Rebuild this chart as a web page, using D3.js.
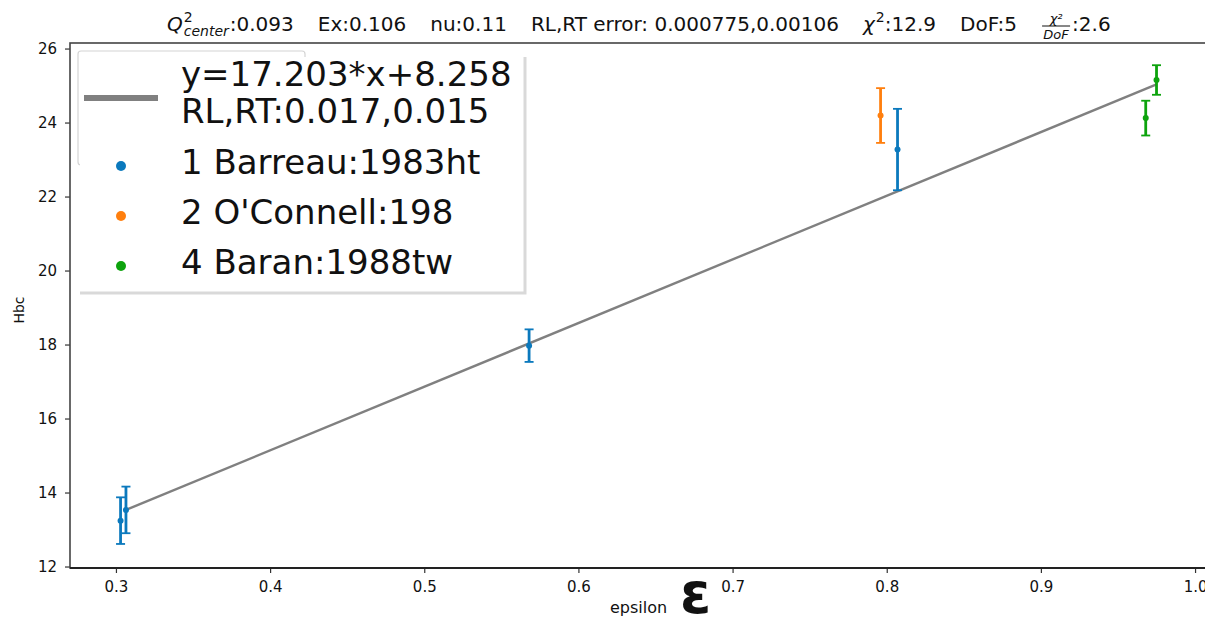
<!DOCTYPE html>
<html>
<head>
<meta charset="utf-8">
<script src="https://cdn.jsdelivr.net/npm/d3@7"></script>
<style>
  html, body { margin: 0; padding: 0; background: #fff; }
  svg { display: block; }
  text { font-family: "DejaVu Sans", sans-serif; fill: #111; white-space: pre; }
</style>
</head>
<body>
<svg id="chart" width="1205" height="617"></svg>
<script>
// Hbc vs epsilon, grouped by experiment
const groups = ["1 Barreau:1983ht", "2 O'Connell:198", "4 Baran:1988tw"];
const groupColors = ["#0b79bd", "#ff7f0e", "#0da30d"];

const barreauEps = [0.303, 0.3065, 0.568, 0.807];
const barreauHbc = [13.24, 13.53, 17.97, 23.27];
const barreauErr = [0.63, 0.63, 0.44, 1.10];

const oconnellEps = [0.796];
const oconnellHbc = [24.19];
const oconnellErr = [0.74];

const baranEps = [0.968, 0.975];
const baranHbc = [24.12, 25.15];
const baranErr = [0.47, 0.40];

// linear fit y = slope * x + intercept, drawn over the data span
const fitSlope = 17.203;
const fitIntercept = 8.258;
const fitRange = [0.3065, 0.975];

const xTicks = [0.3, 0.4, 0.5, 0.6, 0.7, 0.8, 0.9, 1.0];
const yTicks = [12, 14, 16, 18, 20, 22, 24, 26];

const legendLines = ["y=17.203*x+8.258", "RL,RT:0.017,0.015"];

// fit summary shown in the title
const titleItems = ["Ex:0.106", "nu:0.11", "RL,RT error: 0.000775,0.00106"];
const qCenter = ":0.093";
const chi2 = ":12.9";
const dof = "DoF:5";
const chi2PerDof = ":2.6";

const svg = d3.select("#chart");
const plot = { left: 70, right: 1206, top: 43, bottom: 568 };

const x = d3.scaleLinear().domain([0.2702, 1.0071]).range([plot.left, plot.right]);
const y = d3.scaleLinear().domain([11.96, 26.15]).range([plot.bottom, plot.top]);

// axes
const xAxis = d3.axisBottom(x).tickValues(xTicks).tickFormat(d3.format(".1f")).tickSize(5).tickPadding(8);
const yAxis = d3.axisLeft(y).tickValues(yTicks).tickFormat(d3.format("d")).tickSize(5).tickPadding(8);

const gx = svg.append("g").attr("transform", `translate(0,${plot.bottom})`).call(xAxis);
const gy = svg.append("g").attr("transform", `translate(${plot.left},0)`).call(yAxis);
[gx, gy].forEach(g => {
  g.select(".domain").remove();
  g.selectAll(".tick line").attr("stroke", "#333").attr("stroke-width", 1.2);
  g.selectAll(".tick text").attr("font-family", "DejaVu Sans").attr("font-size", 15).attr("fill", "#111");
});

// frame
svg.append("rect")
  .attr("x", plot.left).attr("y", plot.top)
  .attr("width", plot.right - plot.left).attr("height", plot.bottom - plot.top)
  .attr("fill", "none").attr("stroke", "#444").attr("stroke-width", 1.6);
svg.append("line")
  .attr("x1", plot.left).attr("x2", plot.right)
  .attr("y1", plot.bottom).attr("y2", plot.bottom)
  .attr("stroke", "#222").attr("stroke-width", 1.8);

// fit line
svg.append("line")
  .attr("x1", x(fitRange[0])).attr("y1", y(fitSlope * fitRange[0] + fitIntercept))
  .attr("x2", x(fitRange[1])).attr("y2", y(fitSlope * fitRange[1] + fitIntercept))
  .attr("stroke", "#808080").attr("stroke-width", 2.4);

// error bars
const series = [
  { eps: barreauEps, hbc: barreauHbc, err: barreauErr, color: groupColors[0] },
  { eps: oconnellEps, hbc: oconnellHbc, err: oconnellErr, color: groupColors[1] },
  { eps: baranEps, hbc: baranHbc, err: baranErr, color: groupColors[2] }
];
const cap = 4.5;
series.forEach(s => {
  const pts = s.eps.map((e, i) => ({ e, h: s.hbc[i], d: s.err[i] }));
  const g = svg.append("g").attr("stroke", s.color).attr("fill", s.color);
  g.selectAll("line.bar").data(pts).join("line")
    .attr("x1", p => x(p.e)).attr("x2", p => x(p.e))
    .attr("y1", p => y(p.h - p.d)).attr("y2", p => y(p.h + p.d))
    .attr("stroke-width", 2.8);
  g.selectAll("line.top").data(pts).join("line")
    .attr("x1", p => x(p.e) - cap).attr("x2", p => x(p.e) + cap)
    .attr("y1", p => y(p.h + p.d)).attr("y2", p => y(p.h + p.d))
    .attr("stroke-width", 1.8);
  g.selectAll("line.bot").data(pts).join("line")
    .attr("x1", p => x(p.e) - cap).attr("x2", p => x(p.e) + cap)
    .attr("y1", p => y(p.h - p.d)).attr("y2", p => y(p.h - p.d))
    .attr("stroke-width", 1.8);
  g.selectAll("circle").data(pts).join("circle")
    .attr("cx", p => x(p.e)).attr("cy", p => y(p.h)).attr("r", 3)
    .attr("stroke", "none");
});

// original small legend frame (mostly hidden behind the enlarged one)
svg.append("rect")
  .attr("x", 78).attr("y", 51).attr("width", 227).attr("height", 114).attr("rx", 3)
  .attr("fill", "#fff").attr("fill-opacity", 0.85)
  .attr("stroke", "#d4d4d4").attr("stroke-width", 1.2);

// enlarged legend
const lg = svg.append("g");
lg.append("rect")
  .attr("x", 80).attr("y", 57).attr("width", 445).attr("height", 236)
  .attr("fill", "#fff");
lg.append("path")
  .attr("d", "M525,57 L525,293 L80,293")
  .attr("fill", "none").attr("stroke", "#d9d9d9").attr("stroke-width", 3);
lg.append("line")
  .attr("x1", 84).attr("x2", 158).attr("y1", 98).attr("y2", 98)
  .attr("stroke", "#808080").attr("stroke-width", 6);
lg.selectAll("text.fit").data(legendLines).join("text")
  .attr("x", 181).attr("y", (d, i) => 86 + i * 37)
  .attr("font-size", 34).attr("fill", "#111").text(d => d);
lg.selectAll("circle").data(groups).join("circle")
  .attr("cx", 121).attr("cy", (d, i) => 166 + i * 50).attr("r", 5)
  .attr("fill", (d, i) => groupColors[i]);
lg.selectAll("text.grp").data(groups).join("text")
  .attr("x", 181).attr("y", (d, i) => 174 + i * 50)
  .attr("font-size", 34).attr("fill", "#111").text(d => d);

// axis labels
svg.append("text").attr("x", 610).attr("y", 613)
  .attr("font-size", 16).text("epsilon");
svg.append("text").attr("x", 680).attr("y", 613)
  .attr("font-family", "Liberation Serif").attr("font-weight", "bold")
  .attr("font-size", 56).text("ε");
svg.append("text")
  .attr("transform", "translate(24,310) rotate(-90)")
  .attr("text-anchor", "middle").attr("font-size", 14).text("Hbc");

// title, laid out piece by piece from left to right
const tg = svg.append("g").attr("transform", "translate(167,31)");
const fs = 20;
const gap = 24;
let cx = 0;
const put = (str, opts = {}) => {
  const el = tg.append("text").attr("x", cx).attr("y", opts.dy || 0)
    .attr("font-size", opts.size || fs)
    .attr("font-style", opts.italic ? "italic" : null)
    .text(str);
  return el.node().getComputedTextLength();
};
// Q^2_center
let w = put("Q", { italic: true });
cx += w + 1;
put("2", { size: 14, dy: -9 });
w = put("center", { size: 14, italic: true, dy: 5 });
cx += w + 1;
cx += put(qCenter);
// plain items
titleItems.forEach(s => { cx += gap; cx += put(s); });
// chi^2
cx += gap;
cx += put("\u03c7", { italic: true }) + 1;
cx += put("2", { size: 14, dy: -9 });
cx += put(chi2);
cx += gap;
cx += put(dof);
// chi^2 / DoF fraction
cx += gap;
tg.append("text").attr("x", cx + 15).attr("y", -8).attr("font-size", 13)
  .attr("text-anchor", "middle").attr("font-style", "italic").text("\u03c7\u00b2");
tg.append("line").attr("x1", cx + 1).attr("x2", cx + 29).attr("y1", -5).attr("y2", -5)
  .attr("stroke", "#111").attr("stroke-width", 1);
tg.append("text").attr("x", cx + 15).attr("y", 8).attr("font-size", 13)
  .attr("text-anchor", "middle").attr("font-style", "italic").text("DoF");
cx += 31;
put(chi2PerDof);
</script>
</body>
</html>
